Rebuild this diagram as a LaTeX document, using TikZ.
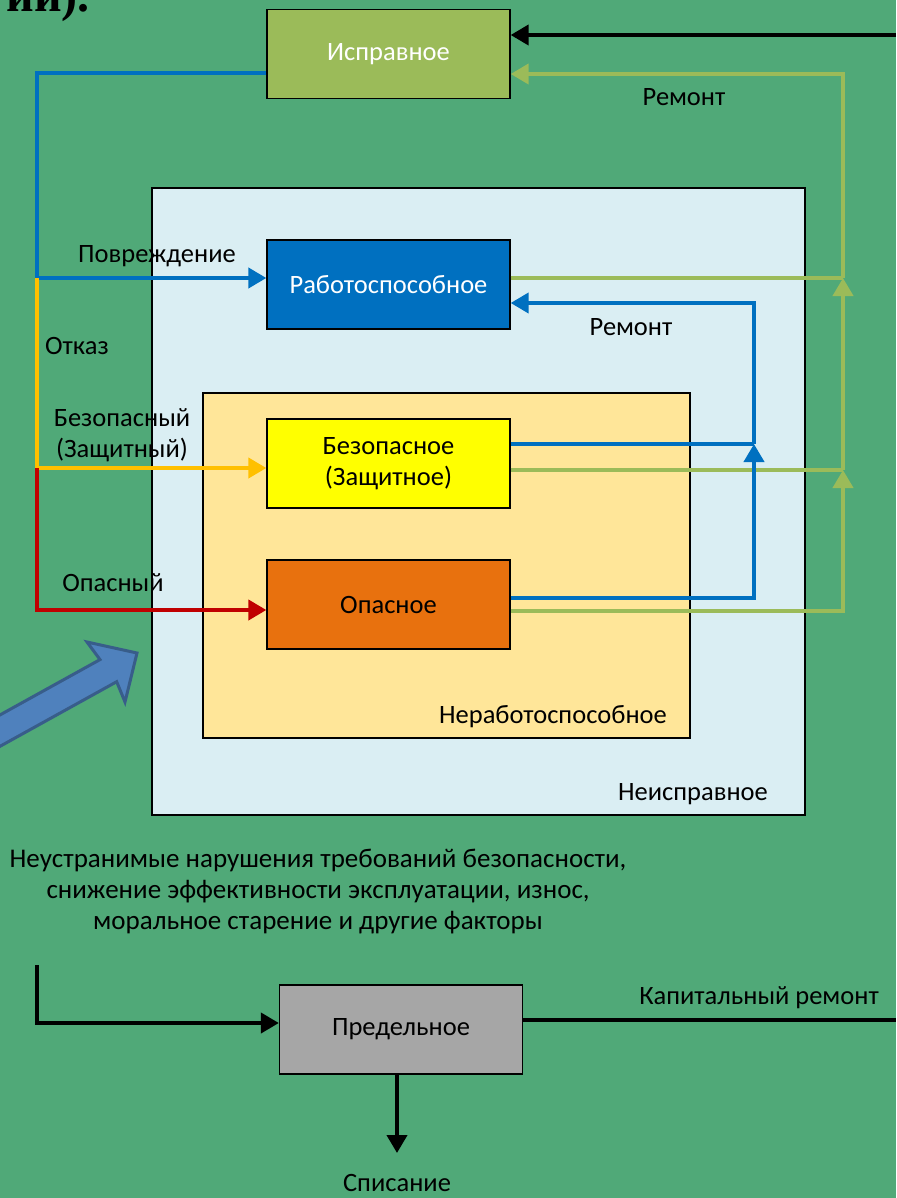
\documentclass[tikz,border=0pt]{standalone}
\usepackage{fontspec}
\setmainfont{Carlito}
\newfontfamily\headfont{Liberation Serif}
\usetikzlibrary{arrows.meta}
\definecolor{bg}{RGB}{80,169,120}
\definecolor{ispc}{RGB}{155,187,89}
\definecolor{bluec}{RGB}{0,112,192}
\definecolor{goldc}{RGB}{255,192,0}
\definecolor{redc}{RGB}{192,0,0}
\definecolor{neispc}{RGB}{218,238,243}
\definecolor{nerabc}{RGB}{255,230,153}
\definecolor{yelc}{RGB}{255,255,0}
\definecolor{orc}{RGB}{232,113,14}
\definecolor{grayc}{RGB}{166,166,166}
\definecolor{barrowfill}{RGB}{79,129,189}
\definecolor{barrowdraw}{RGB}{56,93,138}
\begin{document}
\begin{tikzpicture}[x=1pt,y=-1pt,
  font=\fontsize{26.5}{31}\selectfont,
  box/.style={draw=black, line width=1.3pt, minimum width=243pt, minimum height=89pt, inner sep=0pt, align=center},
  area/.style={draw=black, line width=1.3pt},
  conn/.style={line width=4pt},
  tip/.style={-{Triangle[length=18pt,width=20pt]}},
  lbl/.style={inner sep=0pt, align=center}]
\useasboundingbox (0,0) rectangle (896,1198);
\clip (0,0) rectangle (896,1198);
\fill[bg] (0,0) rectangle (896,1198);

% heading fragment (cut off by the top edge, as in the reference)
\node[anchor=base east, inner sep=0pt, font=\headfont\bfseries\fontsize{48}{48}\selectfont] (head) at (90,12) {ии).};

% big blue block arrow
\draw[fill=barrowfill, draw=barrowdraw, line width=3pt, line join=miter]
  (137,653) -- (87,642) -- (100,659.6) -- (-20,726) -- (-20,757.4) -- (116.7,681.7) -- (125,702) -- cycle;

% regions
\draw[area, fill=neispc] (152,188) rectangle (805,815);
\draw[area, fill=nerabc] (203,393) rectangle (690,738);

% state boxes
\node[box, fill=ispc, text=white] (isp) at (388.5,54) {Исправное};
\node[box, fill=bluec, text=white] (rab) at (388.5,284.5) {Работоспособное};
\node[box, fill=yelc] (bez) at (388.5,463.5) {Безопасное\\(Защитное)};
\node[box, fill=orc] (op) at (388.5,604.5) {Опасное};
\node[box, fill=grayc] (pred) at (401,1029.5) {Предельное};

% coordinates
\coordinate (rin) at (896,35);
\coordinate (o0) at (843,74);
\coordinate (o1) at (843,278);
\coordinate (o2) at (843,470);
\coordinate (o3) at (843,611);
\coordinate (b1) at (754,303);
\coordinate (b2) at (754,444);
\coordinate (b3) at (754,598);
\coordinate (l0) at (37,73);
\coordinate (l1) at (37,278);
\coordinate (l2) at (37,468);
\coordinate (l3) at (37,610);
\coordinate (p0) at (37,965);
\coordinate (p1) at (37,1023);
\coordinate (kr) at (896,1020);
\coordinate (sp) at (397,1153);

% incoming from right
\draw[conn, tip, black] (rin) -- (rin -| isp.east);

% olive repair lines
\draw[conn, ispc, tip] (op.east |- o3) -- (o3) -- (o2);
\draw[conn, ispc] (bez.east |- o2) -- (o2);
\draw[conn, ispc, tip] (o2) -- (o1);
\draw[conn, ispc] (rab.east |- o1) -- (o1);
\draw[conn, ispc, tip] (o1) -- (o0) -- (o0 -| isp.east);

% blue repair lines
\draw[conn, bluec] (bez.east |- b2) -- (b2);
\draw[conn, bluec, tip] (op.east |- b3) -- (b3) -- (b2);
\draw[conn, bluec, tip] (b2) -- (b1) -- (b1 -| rab.east);

% left transitions
\draw[conn, bluec, tip] (isp.west |- l0) -- (l0) -- (l1) -- (l1 -| rab.west);
\draw[conn, goldc, tip] (l1) -- (l2) -- (l2 -| bez.west);
\draw[conn, redc, tip] (l2) -- (l3) -- (l3 -| op.west);

% bottom
\draw[conn, black, tip] (p0) -- (p1) -- (p1 -| pred.west);
\draw[conn, black] (pred.east |- kr) -- (kr);
\draw[conn, black, tip] (pred.south -| sp) -- (sp);

% labels
\node[lbl] (t1) at (684,97) {Ремонт};
\node[lbl] (t2) at (157,256) {Повреждение};
\node[lbl] (t3) at (77,346) {Отказ};
\node[lbl] (t4) at (122,435) {Безопасный\\(Защитный)};
\node[lbl] (t5) at (113,583) {Опасный};
\node[lbl] (t6) at (631,327) {Ремонт};
\node[lbl] (t7) at (553,717) {Неработоспособное};
\node[lbl] (t8) at (693,794) {Неисправное};
\node[lbl, font=\fontsize{27}{31}\selectfont] (t9) at (318,892) {Неустранимые нарушения требований безопасности,\\снижение эффективности эксплуатации, износ,\\моральное старение и другие факторы};
\node[lbl] (t10) at (759,998) {Капитальный ремонт};
\node[lbl] (t11) at (397,1183) {Списание};
\end{tikzpicture}
\end{document}
